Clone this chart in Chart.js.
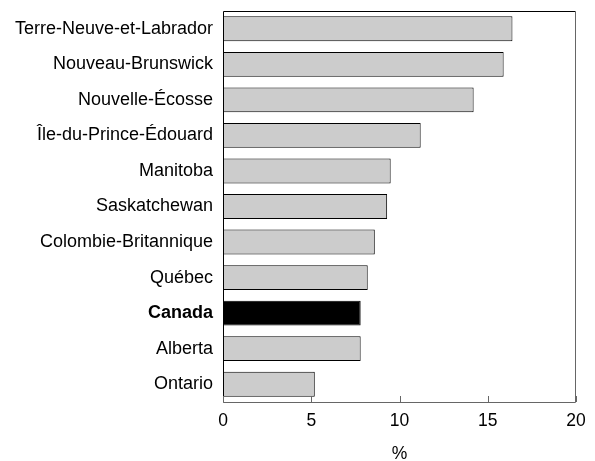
<!DOCTYPE html>
<html>
<head>
<meta charset="utf-8">
<script src="https://cdn.jsdelivr.net/npm/chart.js@4"></script>
<style>
  body { margin: 0; background: #fff; }
  #chart { display: block; }
</style>
</head>
<body>
<canvas id="chart" width="595" height="461"></canvas>
<script>
// Provinces + Canada, in chart order (top to bottom)
const provinces = [
  'Terre-Neuve-et-Labrador',
  'Nouveau-Brunswick',
  'Nouvelle-Écosse',
  'Île-du-Prince-Édouard',
  'Manitoba',
  'Saskatchewan',
  'Colombie-Britannique',
  'Québec',
  'Canada',
  'Alberta',
  'Ontario'
];
const rates = [16.4, 15.9, 14.2, 11.2, 9.5, 9.3, 8.6, 8.2, 7.8, 7.8, 5.2];
const xTicks = [0, 5, 10, 15, 20];
const axisTitle = '%';

const FONT = 'Arial, "Liberation Sans", sans-serif';
const highlight = 'Canada';

// box around the plot + short ticks pointing inward
const frame = {
  id: 'frame',
  afterDraw(chart) {
    const { ctx, chartArea: a, scales } = chart;
    ctx.save();
    ctx.lineWidth = 1;
    ctx.strokeStyle = '#000';
    ctx.beginPath();
    ctx.moveTo(a.left + 0.5, a.bottom + 0.5);
    ctx.lineTo(a.left + 0.5, a.top + 0.5);
    ctx.lineTo(a.right - 0.5, a.top + 0.5);
    ctx.stroke();
    ctx.strokeStyle = '#666';
    ctx.beginPath();
    ctx.moveTo(a.right - 0.5, a.top + 0.5);
    ctx.lineTo(a.right - 0.5, a.bottom + 0.5);
    ctx.lineTo(a.left + 0.5, a.bottom + 0.5);
    ctx.stroke();
    ctx.beginPath();
    xTicks.forEach(v => {
      const x = Math.round(scales.x.getPixelForValue(v)) + 0.5;
      ctx.moveTo(x, a.bottom);
      ctx.lineTo(x, a.bottom - 6);
    });
    ctx.stroke();
    ctx.restore();
  }
};

new Chart(document.getElementById('chart'), {
  type: 'bar',
  data: {
    labels: provinces,
    datasets: [{
      data: rates,
      backgroundColor: provinces.map(p => p === highlight ? '#000' : '#cccccc'),
      borderColor: '#000',
      borderWidth: 1,
      borderSkipped: false,
      barPercentage: 0.7,
      categoryPercentage: 1
    }]
  },
  options: {
    indexAxis: 'y',
    responsive: false,
    animation: false,
    layout: { padding: { top: 11, right: 19, left: 0, bottom: 0 } },
    plugins: { legend: { display: false }, tooltip: { enabled: false } },
    scales: {
      x: {
        min: 0,
        max: 20,
        afterBuildTicks(scale) { scale.ticks = xTicks.map(v => ({ value: v })); },
        afterFit(scale) { scale.height = 59; },
        grid: { display: false, drawTicks: false },
        border: { display: false },
        ticks: { color: '#000', padding: 9, font: { family: FONT, size: 17.5 } },
        title: {
          display: true,
          text: axisTitle,
          color: '#000',
          padding: { top: 0, bottom: -4 },
          font: { family: FONT, size: 17.5 }
        }
      },
      y: {
        afterFit(scale) {
          scale.width = 223;
          scale.paddingTop = 0;
          scale.paddingBottom = 0;
        },
        grid: { display: false, drawTicks: false },
        border: { display: false },
        ticks: {
          color: '#000',
          padding: 10,
          font: ctx => ({
            family: FONT,
            size: 18,
            weight: provinces[ctx.index] === highlight ? 'bold' : 'normal'
          })
        }
      }
    }
  },
  plugins: [frame]
});
</script>
</body>
</html>
